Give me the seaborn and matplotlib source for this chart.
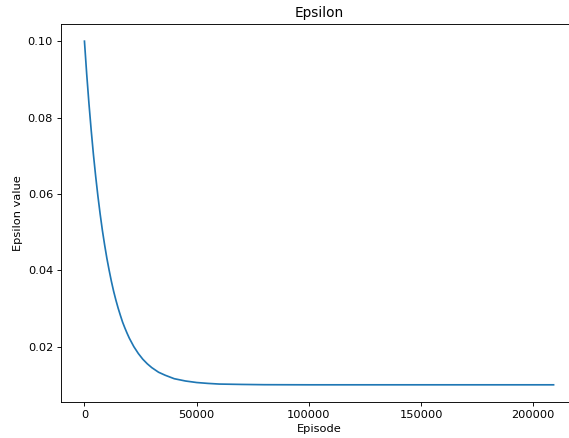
import numpy as np
import pandas as pd
import seaborn as sns
import matplotlib
matplotlib.use("Agg")
import matplotlib.pyplot as plt

# values
episodes = [0, 1000, 2000, 3000, 4000, 5000, 6000, 7000, 8000, 9000,
            10000, 11000, 12000, 13000, 14000, 15000, 16000, 17000, 18000,
            19000, 20000, 22000, 24000, 26000, 28000, 30000, 33000, 36000,
            40000, 45000, 50000, 55000, 60000, 70000, 80000, 100000,
            125000, 150000, 175000, 200000, 209000]
epsilon = [0.1000, 0.0914, 0.0837, 0.0767, 0.0703, 0.0646, 0.0594, 0.0547,
           0.0504, 0.0466, 0.0431, 0.0400, 0.0371, 0.0345, 0.0322, 0.0301,
           0.0282, 0.0264, 0.0249, 0.0235, 0.0222, 0.0200, 0.0182, 0.0167,
           0.0155, 0.0145, 0.0133, 0.0125, 0.0116, 0.0110, 0.0106, 0.01037,
           0.0102, 0.0101, 0.01003, 0.0100, 0.0100, 0.0100, 0.0100, 0.0100,
           0.0100]

df = pd.DataFrame({"Episode": episodes, "Epsilon value": epsilon})

DPI = 81.5
fig = plt.figure(figsize=(569 / DPI, 438 / DPI), dpi=DPI)
# axes run past the right edge of the picture, as in the cropped original
ax = fig.add_axes([0.1072, 0.0822, 0.9069, 0.863])

sns.lineplot(data=df, x="Episode", y="Epsilon value", ax=ax, color="tab:blue")

ax.set_title("Epsilon")
ax.set_xlabel("Episode")
ax.set_ylabel("Epsilon value")
ax.set_yticks([0.02, 0.04, 0.06, 0.08, 0.10])
ax.set_xticks([0, 50000, 100000, 150000, 200000])
ax.spines["right"].set_visible(False)

fig.savefig("out.png", dpi=DPI)
